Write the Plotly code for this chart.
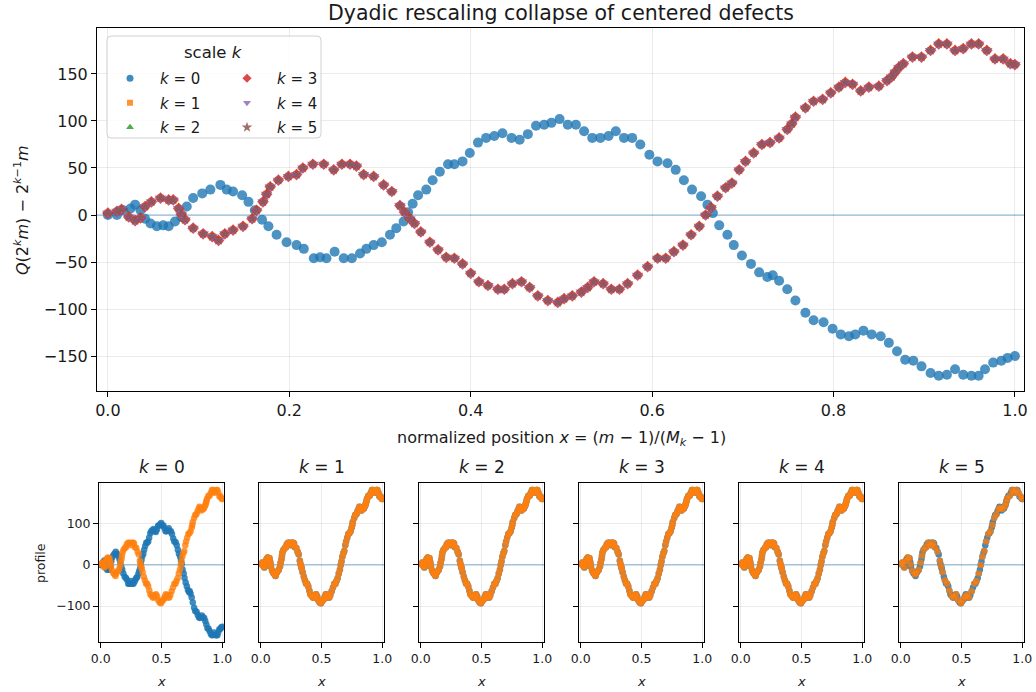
import plotly.graph_objects as go

W, H = 1036, 692

# ---------------- data ----------------
# collapsed profile (scales k >= 1)
x_c = [0.000, 0.010, 0.015, 0.023, 0.030, 0.036, 0.041, 0.048, 0.058, 0.067, 0.072, 0.078, 0.081,
       0.085, 0.094, 0.105, 0.115, 0.122, 0.129, 0.138, 0.149, 0.159, 0.164, 0.171, 0.175, 0.179,
       0.188, 0.199, 0.208, 0.215, 0.226, 0.238, 0.249, 0.258, 0.267, 0.274, 0.282, 0.293, 0.304,
       0.313, 0.322, 0.327, 0.333, 0.338, 0.345, 0.355, 0.364, 0.373, 0.382, 0.391, 0.400, 0.409,
       0.419, 0.430, 0.437, 0.446, 0.456, 0.465, 0.474, 0.485, 0.496, 0.503, 0.512, 0.522, 0.529,
       0.536, 0.546, 0.555, 0.564, 0.573, 0.584, 0.595, 0.606, 0.615, 0.624, 0.634, 0.643, 0.652,
       0.659, 0.665, 0.672, 0.681, 0.688, 0.696, 0.703, 0.712, 0.721, 0.730, 0.740, 0.749, 0.754,
       0.758, 0.769, 0.778, 0.788, 0.797, 0.806, 0.813, 0.821, 0.830, 0.839, 0.850, 0.859, 0.864,
       0.868, 0.872, 0.877, 0.887, 0.897, 0.907, 0.916, 0.925, 0.934, 0.943, 0.952, 0.960, 0.969,
       0.978, 0.987, 0.995, 1.000]
y_c = [2, 4, 6, -2, -6, -3, 9, 14, 18, 16, 16, 7, 1,
       -5, -14, -20, -23, -27, -20, -16, -12, -4, 5, 14, 22, 30,
       37, 41, 43, 50, 54, 54, 48, 54, 54, 52, 43, 41, 32,
       25, 10, 3, -4, -9, -18, -29, -37, -45, -46, -52, -62, -71,
       -75, -79, -79, -73, -71, -77, -86, -91, -93, -89, -86, -82, -77,
       -71, -73, -79, -79, -73, -64, -55, -46, -46, -39, -32, -21, -12,
       0, 8, 20, 29, 34, 48, 57, 66, 75, 77, 82, 91, 97,
       104, 114, 121, 123, 130, 136, 141, 139, 132, 136, 137, 143, 147,
       152, 157, 161, 168, 168, 175, 182, 182, 175, 177, 182, 182, 175,
       166, 166, 161, 160]

# profile at scale k = 0
x_0 = [0.000, 0.010, 0.017, 0.025, 0.030, 0.036, 0.041, 0.047, 0.054, 0.061, 0.067, 0.074, 0.081,
       0.087, 0.094, 0.104, 0.113, 0.124, 0.131, 0.138, 0.148, 0.155, 0.162, 0.170, 0.177, 0.186,
       0.197, 0.208, 0.216, 0.227, 0.234, 0.241, 0.250, 0.260, 0.269, 0.278, 0.285, 0.293, 0.302,
       0.311, 0.318, 0.326, 0.331, 0.336, 0.342, 0.351, 0.358, 0.366, 0.375, 0.382, 0.391, 0.399,
       0.408, 0.417, 0.426, 0.435, 0.445, 0.454, 0.463, 0.472, 0.481, 0.489, 0.498, 0.507, 0.516,
       0.525, 0.534, 0.543, 0.552, 0.560, 0.569, 0.578, 0.587, 0.597, 0.606, 0.617, 0.626, 0.635,
       0.644, 0.654, 0.661, 0.667, 0.674, 0.683, 0.690, 0.699, 0.709, 0.718, 0.727, 0.733, 0.740,
       0.749, 0.758, 0.769, 0.778, 0.789, 0.799, 0.808, 0.817, 0.824, 0.833, 0.842, 0.852, 0.861,
       0.870, 0.879, 0.888, 0.897, 0.907, 0.916, 0.925, 0.934, 0.943, 0.952, 0.960, 0.967, 0.976,
       0.985, 0.992, 1.000]
y_0 = [0, 0, 5, 7, 11, 5, -4, -9, -12, -11, -12, -7, -2,
       9, 18, 23, 27, 32, 27, 25, 21, 14, 5, -5, -12, -21,
       -29, -32, -36, -46, -45, -46, -39, -46, -46, -41, -36, -32, -29,
       -21, -14, -7, 3, 12, 21, 27, 37, 46, 54, 54, 57, 66,
       77, 82, 84, 87, 82, 80, 86, 95, 96, 98, 102, 96, 96,
       89, 82, 82, 84, 89, 82, 82, 75, 64, 57, 55, 48, 37,
       27, 20, 11, 2, -11, -21, -32, -43, -52, -61, -66, -64, -70,
       -79, -91, -104, -112, -114, -121, -127, -129, -127, -123, -127, -129, -136,
       -145, -154, -155, -161, -168, -171, -170, -164, -170, -171, -171, -164, -157,
       -155, -152, -150]

scales = [0, 1, 2, 3, 4, 5]
colors = ["#1f77b4", "#ff7f0e", "#2ca02c", "#d62728", "#9467bd", "#8c564b"]
symbols = ["circle", "square", "triangle-up", "diamond", "triangle-down", "star"]

main_x_ticks = [0.0, 0.2, 0.4, 0.6, 0.8, 1.0]
main_y_ticks = [-150, -100, -50, 0, 50, 100, 150]
small_x_ticks = [0.0, 0.5, 1.0]
small_y_ticks = [-100, 0, 100]

# ---------------- figure ----------------
FONT = "DejaVu Sans"
TXT = "#1a1a1a"
MARKER_SIZES = [10, 7, 8, 9, 10, 8]
LEGEND_SIZES = [7, 6, 7, 7, 7, 8]


def fx(px):
    return px / W


def fy(py):
    return 1 - py / H


fig = go.Figure()

# main panel series
for k in scales:
    xs, ys = (x_0, y_0) if k == 0 else (x_c, y_c)
    fig.add_trace(go.Scatter(
        x=xs, y=ys, mode="markers", xaxis="x", yaxis="y", showlegend=False,
        marker=dict(color=colors[k], symbol=symbols[k], size=MARKER_SIZES[k],
                    opacity=0.8, line=dict(width=0)),
    ))

# legend entries (small symbols, like the reference legend)
for k in scales:
    fig.add_trace(go.Scatter(
        x=[None], y=[None], mode="markers", xaxis="x", yaxis="y",
        name=f"<i>k</i> = {k}",
        legend="legend" if k < 3 else "legend2",
        legendgroup=f"g{k}", showlegend=True,
        marker=dict(color=colors[k], symbol=symbols[k], size=LEGEND_SIZES[k],
                    opacity=0.85, line=dict(width=0)),
    ))

# small panels
for i, k in enumerate(scales):
    ax = str(i + 2)
    bx, by = (x_0, y_0) if k == 0 else (x_c, y_c)
    fig.add_trace(go.Scatter(
        x=bx, y=by, mode="markers", xaxis="x" + ax, yaxis="y" + ax, showlegend=False,
        marker=dict(color=colors[0], size=6.5, opacity=0.85, line=dict(width=0)),
    ))
    ox, oy = (x_c[::2], y_c[::2]) if k == 5 else (x_c, y_c)
    fig.add_trace(go.Scatter(
        x=ox, y=oy, mode="markers", xaxis="x" + ax, yaxis="y" + ax, showlegend=False,
        marker=dict(color=colors[1], size=6.5, opacity=0.8, line=dict(width=0)),
    ))

axis_common = dict(
    showline=True, mirror=True, linecolor="black", linewidth=1,
    ticks="outside", ticklen=5, tickwidth=1, tickcolor="black",
    showgrid=True, gridcolor="rgba(0,0,0,0.08)", gridwidth=1, zeroline=False,
    automargin=False,
)

YR = [-187.2, 198.9]
layout = dict(
    width=W, height=H, margin=dict(l=0, r=0, t=0, b=0, autoexpand=False),
    paper_bgcolor="white", plot_bgcolor="white",
    font=dict(family=FONT, color=TXT),
    xaxis=dict(domain=[fx(97), fx(1024)], range=[-0.012, 1.01], tickvals=main_x_ticks,
               ticktext=[f"{v:.1f}" for v in main_x_ticks], tickfont=dict(size=16), anchor="y",
               **axis_common),
    yaxis=dict(domain=[fy(391), fy(28)], range=YR, tickvals=main_y_ticks,
               ticktext=[str(v).replace("-", "−") for v in main_y_ticks], tickfont=dict(size=16),
               anchor="x", **axis_common),
)

panel_left = [99, 259, 419, 579, 739, 899]
panel_w = 125
for i, k in enumerate(scales):
    ax = str(i + 2)
    l0 = panel_left[i]
    layout["xaxis" + ax] = dict(domain=[fx(l0), fx(l0 + panel_w)], range=[-0.014, 1.015],
                                tickvals=small_x_ticks, ticktext=[f"{v:.1f}" for v in small_x_ticks],
                                tickfont=dict(size=12.5), anchor="y" + ax, **axis_common)
    layout["yaxis" + ax] = dict(domain=[fy(642), fy(483)], range=YR, tickvals=small_y_ticks,
                                ticktext=[str(v).replace("-", "−") for v in small_y_ticks],
                                tickfont=dict(size=12.5), showticklabels=(i == 0),
                                anchor="x" + ax, **axis_common)

# legends (two columns)
leg_common = dict(bgcolor="rgba(0,0,0,0)", borderwidth=0, font=dict(size=15, color=TXT),
                  itemwidth=50, tracegroupgap=2, xanchor="left", yanchor="top",
                  traceorder="grouped", itemclick=False, itemdoubleclick=False)
layout["legend"] = dict(x=fx(100), y=fy(62), **leg_common)
layout["legend2"] = dict(x=fx(217), y=fy(62), **leg_common)

fig.update_layout(**layout)

# zero reference lines
shapes = []
axes_pairs = [("x", "y")] + [("x" + str(i + 2), "y" + str(i + 2)) for i in range(6)]
for xa, ya in axes_pairs:
    shapes.append(dict(type="line", xref=xa + " domain", yref=ya, x0=0, x1=1, y0=0, y1=0,
                       line=dict(color="rgba(31,119,180,0.55)", width=1), layer="below"))

# legend frame (rounded)
lx0, lx1, ly0, ly1, r = 107, 321, 36, 138, 4
rx, ry = r / W, r / H
X0, X1, Y0, Y1 = fx(lx0), fx(lx1), fy(ly1), fy(ly0)
path = (f"M {X0+rx},{Y0} L {X1-rx},{Y0} Q {X1},{Y0} {X1},{Y0+ry} L {X1},{Y1-ry} "
        f"Q {X1},{Y1} {X1-rx},{Y1} L {X0+rx},{Y1} Q {X0},{Y1} {X0},{Y1-ry} "
        f"L {X0},{Y0+ry} Q {X0},{Y0} {X0+rx},{Y0} Z")
shapes.append(dict(type="path", xref="paper", yref="paper", path=path,
                   line=dict(color="#d0d0d0", width=1), fillcolor="rgba(255,255,255,0.8)",
                   layer="above"))
fig.update_layout(shapes=shapes)

ann = []
ann.append(dict(text="Dyadic rescaling collapse of centered defects", x=fx(561), y=fy(13),
                xref="paper", yref="paper", showarrow=False, font=dict(size=20.5),
                xanchor="center", yanchor="middle"))
ann.append(dict(text="normalized position <i>x</i> = (<i>m</i> − 1)/(<i>M</i><sub><i>k</i></sub> − 1)",
                x=fx(561), y=fy(438), xref="paper", yref="paper", showarrow=False,
                font=dict(size=16), xanchor="center", yanchor="middle"))
ann.append(dict(text="<i>Q</i>(2<sup><i>k</i></sup><i>m</i>) − 2<sup><i>k</i>−1</sup><i>m</i>",
                x=fx(21), y=fy(210), xref="paper", yref="paper", showarrow=False, textangle=-90,
                font=dict(size=16), xanchor="center", yanchor="middle"))
ann.append(dict(text="scale <i>k</i>", x=fx(213), y=fy(52), xref="paper", yref="paper",
                showarrow=False, font=dict(size=16.5), xanchor="center", yanchor="middle"))
ann.append(dict(text="profile", x=fx(40), y=fy(563), xref="paper", yref="paper", showarrow=False,
                textangle=-90, font=dict(size=12.5), xanchor="center", yanchor="middle"))
for i, k in enumerate(scales):
    cx = panel_left[i] + panel_w / 2
    ann.append(dict(text=f"<i>k</i> = {k}", x=fx(cx), y=fy(467), xref="paper", yref="paper",
                    showarrow=False, font=dict(size=17), xanchor="center", yanchor="middle"))
    ann.append(dict(text="<i>x</i>", x=fx(cx), y=fy(681), xref="paper", yref="paper",
                    showarrow=False, font=dict(size=13), xanchor="center", yanchor="middle"))
fig.update_layout(annotations=ann)

fig.write_html("out.html")
